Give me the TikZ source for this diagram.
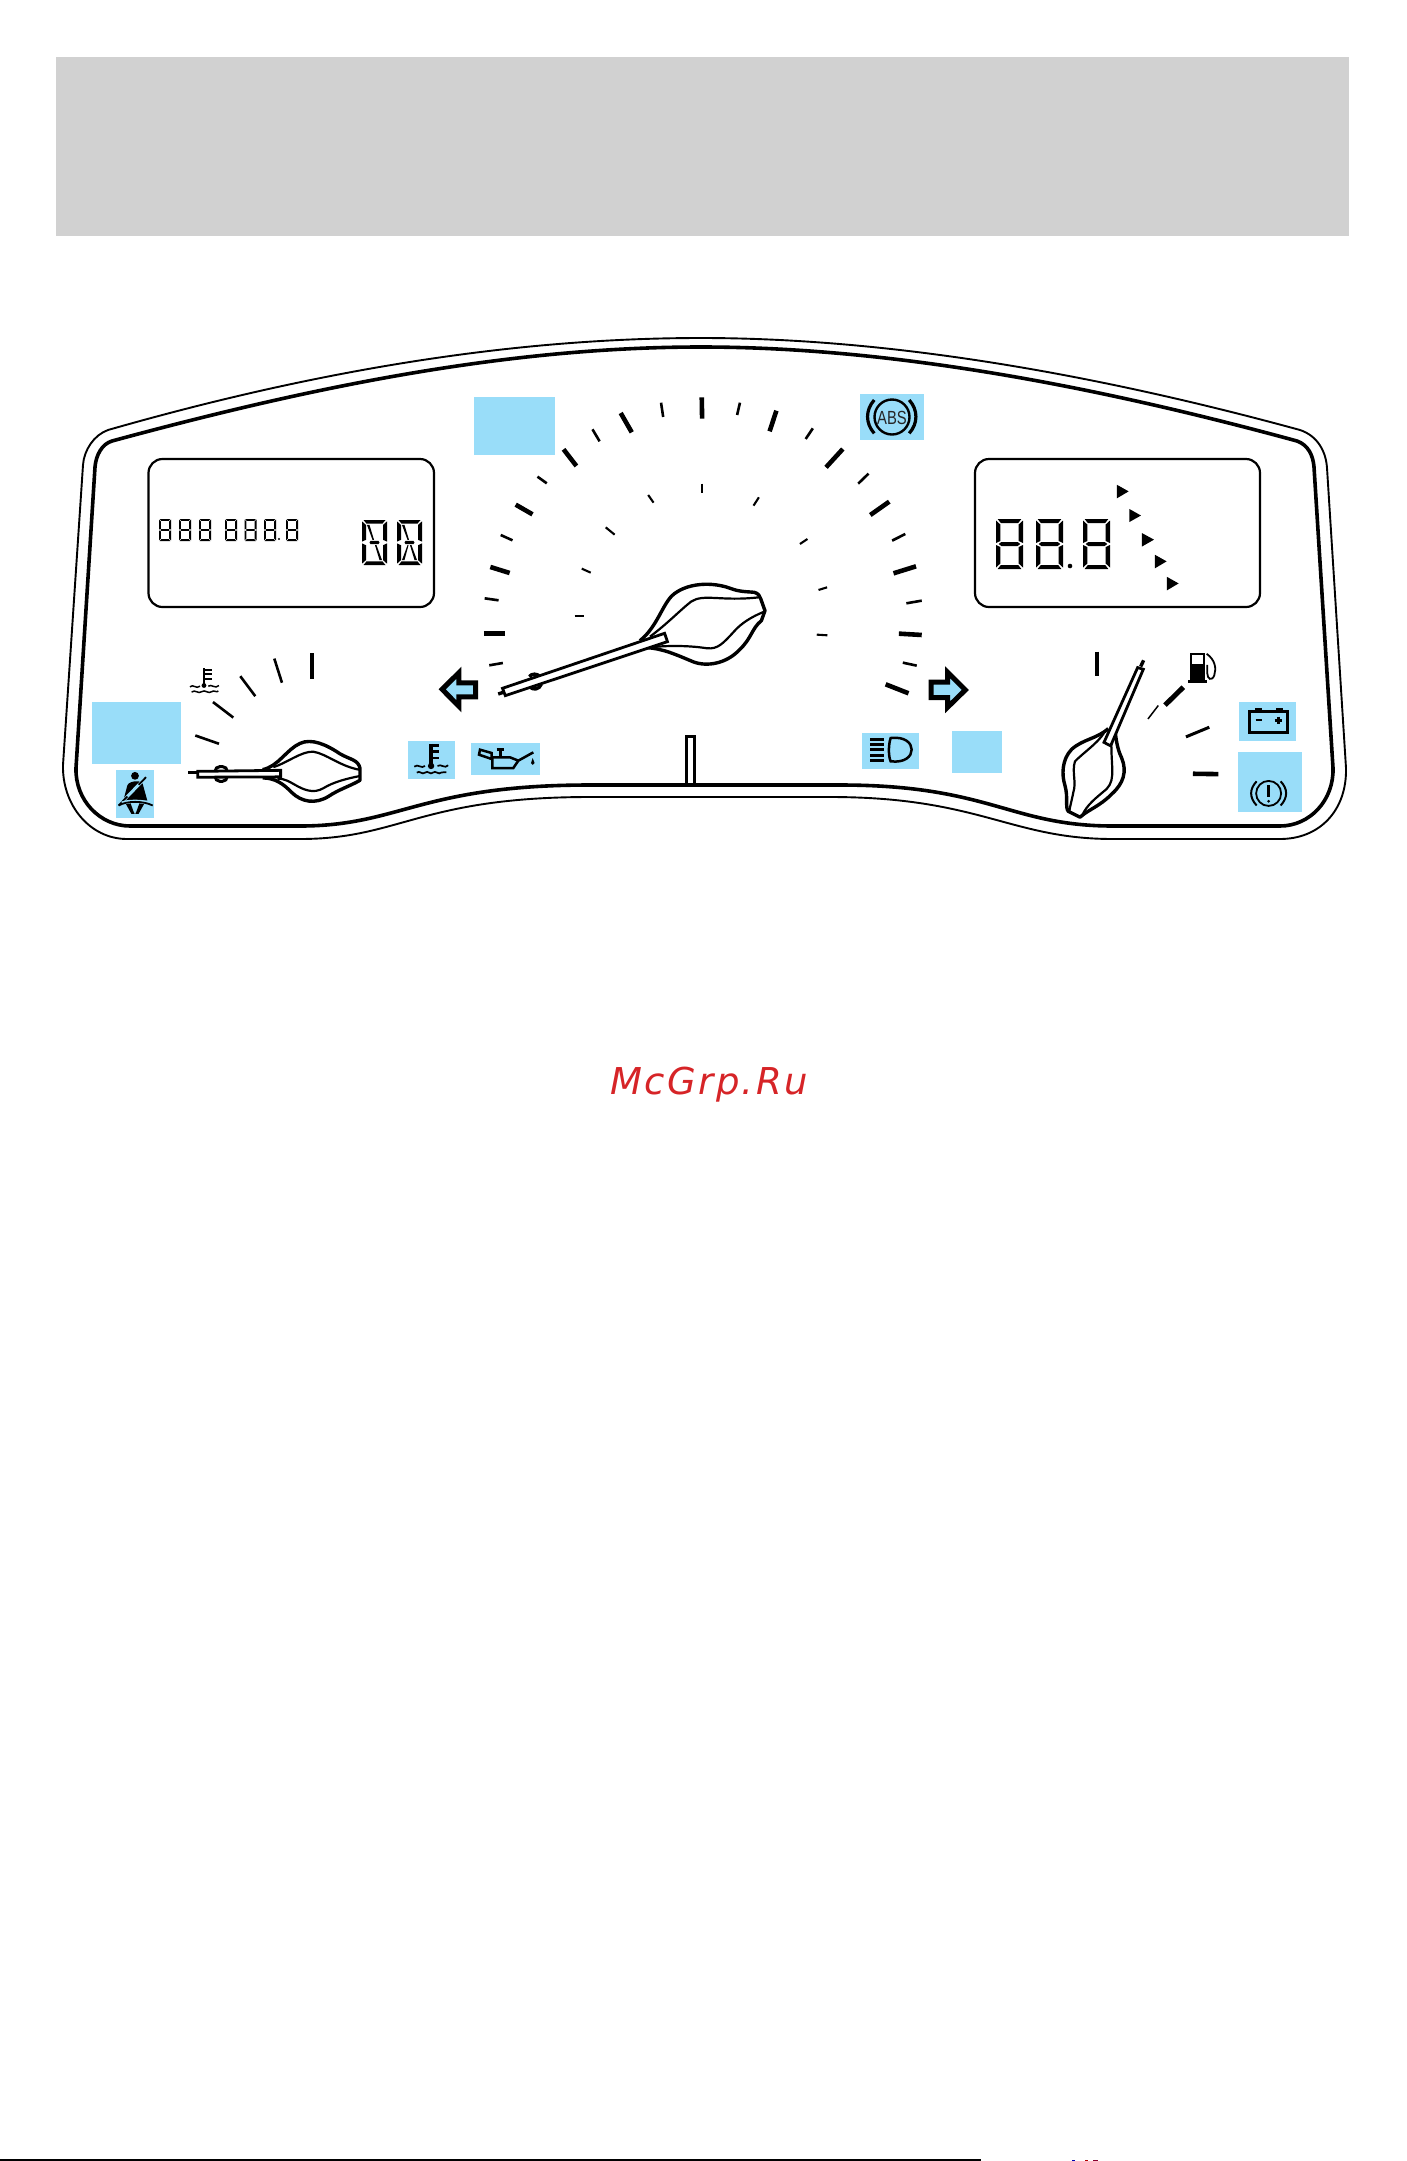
\documentclass[tikz,border=0pt]{standalone}
\usepackage{fontspec}
\setmainfont{Liberation Sans}
\newfontfamily\wmfont[LetterSpace=6.5]{DejaVu Sans}
\definecolor{lcdblue}{HTML}{99DDF9}
\definecolor{headgray}{HTML}{D1D1D1}
\definecolor{wmred}{HTML}{D62427}
\tikzset{
  zoneA/.style={shift={(40,320)},x=0.3333pt,y=-0.3448pt},
  zoneB/.style={shift={(900,320)},x=0.3333pt,y=-0.3448pt},
  zoneC/.style={shift={(400,380)},x=0.3571pt,y=-0.3333pt},
  lamp/.style={fill=lcdblue,draw=none},
  major/.style={line width=4.6pt},
  minor/.style={line width=2.6pt},
  fine/.style={line width=2.1pt},
  needleline/.style={line width=3.4pt,line join=round},
  needlethin/.style={line width=2.2pt,line join=round},
  icon/.style={line width=2.5pt,line join=miter},
  panel/.style={line width=2.2pt,rounded corners=14pt}
}
\newcommand{\segcore}{%
  \fill (.06,0)--(.94,0)--(.82,.08)--(.18,.08)--cycle;
  \fill (.06,1)--(.94,1)--(.82,.92)--(.18,.92)--cycle;
  \fill (0,.03)--(.16,.11)--(.16,.44)--(0,.48)--cycle;
  \fill (0,.52)--(.16,.56)--(.16,.89)--(0,.97)--cycle;
  \fill (1,.03)--(.84,.11)--(.84,.44)--(1,.48)--cycle;
  \fill (1,.52)--(.84,.56)--(.84,.89)--(1,.97)--cycle;
}
\newcommand{\segmid}{\fill (.1,.5)--(.2,.46)--(.8,.46)--(.9,.5)--(.8,.54)--(.2,.54)--cycle;}
\newcommand{\digiteight}[4]{\begin{scope}[shift={(#1,#2)},x=#3pt,y=-#4pt]\segcore\segmid\end{scope}}
\newcommand{\digitalpha}[5]{\begin{scope}[shift={(#1,#2)},x=#3pt,y=-#4pt]\segcore
  \fill (.34,.465)--(.66,.465)--(.7,.5)--(.66,.535)--(.34,.535)--(.3,.5)--cycle;
  \fill (.2,.11)--(.3,.11)--(.48,.44)--(.42,.44)--cycle;
  \fill (.8,.89)--(.7,.89)--(.52,.56)--(.58,.56)--cycle;
  #5\end{scope}}
\begin{document}
\begin{tikzpicture}[x=1pt,y=-1pt]
\useasboundingbox (0,0) rectangle (1406,2161);
% header band
\fill[headgray] (56,57) rectangle (1349,236);
% footer line
\fill[black] (0,2159) rectangle (981,2161);
\fill[blue!70!black] (1072,2159.5) rectangle (1075,2161);
\fill[red!70!black] (1085,2159.5) rectangle (1088,2161);
\fill[purple!70!black] (1093,2159.5) rectangle (1098,2161);
% lamp patches
\fill[lamp] (474,397) rectangle (555,455);
\fill[lamp] (860,394) rectangle (924,440);
\fill[lamp] (92,702) rectangle (181,764);
\fill[lamp] (116,770) rectangle (154,818);
\fill[lamp] (408,741) rectangle (455,779);
\fill[lamp] (471,743) rectangle (540,775);
\fill[lamp] (862,733) rectangle (919,769);
\fill[lamp] (952,731) rectangle (1002,773);
\fill[lamp] (1239,702) rectangle (1296,741);
\fill[lamp] (1238,752) rectangle (1302,812);
% outer cluster outline
\draw[line width=1.9pt,line join=round]
 (108,430) .. controls (300,375) and (500,338) .. (701,338)
 .. controls (900,338) and (1110,378) .. (1300,430)
 .. controls (1318,436) and (1326,452) .. (1327,468) -- (1346,768)
 .. controls (1347,810) and (1320,839) .. (1280,839) -- (1113,839)
 .. controls (1010,839) and (980,797) .. (830,797) -- (590,797)
 .. controls (420,797) and (400,839) .. (300,839) -- (127,839)
 .. controls (90,839) and (62,805) .. (63,765) -- (83,465)
 .. controls (84,450) and (94,435) .. (108,430) -- cycle;
% inner cluster outline
\draw[line width=3.6pt,line join=round]
 (112,441) .. controls (300,390) and (500,347) .. (701,347)
 .. controls (900,347) and (1110,390) .. (1297,441)
 .. controls (1308,445) and (1313,455) .. (1314,467) -- (1333,768)
 .. controls (1334,800) and (1310,826) .. (1280,826) -- (1113,826)
 .. controls (1010,826) and (990,785) .. (840,785) -- (590,785)
 .. controls (420,785) and (400,826) .. (300,826) -- (130,826)
 .. controls (100,826) and (75,800) .. (76,768) -- (95,467)
 .. controls (96,455) and (102,444) .. (112,441) -- cycle;
% LCD panels
\draw[panel] (148.5,459) rectangle (434,607);
\draw[panel] (975,459) rectangle (1260,607);
% odometer digits
\foreach \xx in {159,179,199,225,244.5,264,286} {\digiteight{\xx}{519}{12}{22}}
\fill (279,539) circle[radius=1.2pt];
\digitalpha{362}{520}{25}{45}{}
\digitalpha{397}{520}{25}{45}{\fill (.46,.56)--(.42,.56)--(.2,.89)--(.3,.89)--cycle;}
% trip digits
\digiteight{996}{519}{27}{50}
\digiteight{1036}{519}{27}{50}
\digiteight{1083}{519}{27}{50}
\fill (1070,566) circle[radius=2.3pt];
\begin{scope}[zoneB]
 \fill (651,478)--(651,517)--(686,497)--cycle;
 \fill (688,548)--(688,586)--(723,567)--cycle;
 \fill (726,618)--(726,657)--(762,637)--cycle;
 \fill (765,681)--(765,720)--(800,700)--cycle;
 \fill (801,745)--(801,784)--(836,764)--cycle;
\end{scope}
% speedometer
\begin{scope}[zoneC]
 \draw[minor] (250,856)--(288,849);
 \draw[major] (235,761)--(293,761);
 \draw[minor] (237,655)--(276,661);
 \draw[major] (253,561)--(307,579);
 \draw[minor] (282,465)--(315,481);
 \draw[major] (324,374)--(371,403);
 \draw[minor] (385,290)--(411,310);
 \draw[major] (458,208)--(494,258);
 \draw[minor] (539,148)--(559,184);
 \draw[major] (618,99)--(649,157);
 \draw[minor] (731,68)--(737,111);
 \draw[major] (845,52)--(846,116);
 \draw[minor] (952,68)--(944,105);
 \draw[major] (1054,92)--(1035,154);
 \draw[minor] (1156,145)--(1136,177);
 \draw[major] (1240,207)--(1193,262);
 \draw[minor] (1312,281)--(1283,311);
 \draw[major] (1370,365)--(1317,405);
 \draw[minor] (1415,462)--(1378,482);
 \draw[major] (1445,559)--(1382,580);
 \draw[minor] (1461,662)--(1418,670);
 \draw[major] (1461,765)--(1397,761);
 \draw[minor] (1447,857)--(1408,848);
 \draw[major] (1424,940)--(1360,913);
 \draw[fine] (489,708)--(515,708);
 \draw[fine] (509,566)--(534,578);
 \draw[fine] (576,442)--(601,464);
 \draw[fine] (695,345)--(710,368);
 \draw[fine] (845,311)--(845,340);
 \draw[fine] (1005,352)--(990,377);
 \draw[fine] (1141,477)--(1120,492);
 \draw[fine] (1196,622)--(1172,630);
 \draw[fine] (1197,766)--(1167,764);
 % needle
 \draw[needleline] (275,942)--(292,936);
 \draw[needleline] (362,890) .. controls (368,880) and (385,880) .. (392,890);
 \draw[needleline] (365,922) .. controls (372,930) and (390,930) .. (396,912);
 \draw[needleline] (672,782) .. controls (715,745) and (730,690) .. (755,655)
   .. controls (785,615) and (860,600) .. (925,625)
   .. controls (950,636) and (975,635) .. (992,637)
   .. controls (1003,640) and (1008,648) .. (1010,656)
   -- (1022,692) -- (1012,722)
   .. controls (985,745) and (985,775) .. (950,810)
   .. controls (915,850) and (860,862) .. (820,845)
   .. controls (775,825) and (735,805) .. (690,803);
 \draw[needlethin] (700,770) .. controls (750,730) and (785,690) .. (815,665)
   .. controls (850,640) and (900,665) .. (1005,652);
 \draw[needlethin] (1020,695) .. controls (985,710) and (955,730) .. (935,755)
   .. controls (905,790) and (890,808) .. (860,805)
   .. controls (820,798) and (760,795) .. (700,802);
 \draw[line width=2.8pt,fill=white,line join=miter] (287,925)--(741,760)--(749,785)--(295,947)--cycle;
 % left arrow
 \draw[draw=black,line width=5pt,line join=miter,fill=lcdblue] (118,928)--(165,878)--(165,909)--(212,909)--(212,951)--(165,951)--(165,979)--cycle;
 % centre mark
 \draw[line width=2.8pt] (803,1215)--(803,1069)--(825,1069)--(825,1215);
 % ABS arcs
 \draw[line width=3.2pt] (1328,60) .. controls (1303,90) and (1303,130) .. (1328,160);
 \draw[line width=3.2pt] (1426,60) .. controls (1451,90) and (1451,130) .. (1426,160);
 % coolant lamp
 \draw[line width=3.4pt] (87,1092)--(87,1155);
 \draw[line width=2.5pt] (87,1096)--(110,1096) (87,1115)--(110,1115) (87,1134)--(110,1134);
 \fill (87,1158) circle[radius=3.2pt];
 \draw[line width=1.7pt] (40,1160) .. controls (50,1150) and (60,1168) .. (70,1158)  (105,1158) .. controls (115,1150) and (125,1168) .. (135,1156);
 \draw[line width=1.7pt] (47,1178) .. controls (55,1170) and (62,1186) .. (70,1178) .. controls (78,1170) and (85,1186) .. (92,1178) .. controls (100,1170) and (108,1186) .. (115,1178) .. controls (120,1173) and (125,1180) .. (130,1177);
\end{scope}
\node[inner sep=0pt,text=black!85] (abslabel) at (892,418) {\fontsize{19pt}{19pt}\selectfont\scalebox{.78}[1]{ABS}};
\draw[line width=2.4pt] (892,417) circle[radius=17.5pt];
% oil lamp
\begin{scope}[shift={(465,738)},x=.3333pt,y=-.3333pt]
 \draw[icon] (45,35)--(42,50)--(80,63)--(80,45)--cycle;
 \draw[icon] (82,58)--(82,90)--(145,90)--(160,68)--(205,43);
 \draw[icon] (82,58)--(135,58)--(160,68);
 \draw[icon] (95,34)--(118,34) (107,34)--(107,58);
 \fill (203,60)--(198,75) arc[start angle=180,end angle=360,radius=1.8pt]--cycle;
\end{scope}
% headlamp
\begin{scope}[shift={(855,728)},x=.3333pt,y=-.3333pt]
 \draw[icon] (45,35)--(88,35) (45,50)--(88,50) (45,65)--(88,65) (45,82)--(88,82) (45,97)--(88,97);
 \draw[line width=2.5pt] (107,30) .. controls (100,50) and (100,85) .. (107,100) .. controls (150,105) and (170,85) .. (170,65) .. controls (170,45) and (150,25) .. (107,30) -- cycle;
\end{scope}
% tachometer / temperature gauge
\begin{scope}[zoneA]
 % seat belt lamp
 \fill (285,1322) circle[radius=3.9pt];
 \fill (262,1350) .. controls (265,1338) and (300,1332) .. (308,1345) -- (322,1394) -- (250,1394) -- cycle;
 \draw[lcdblue,line width=3pt] (240,1404)--(318,1326);
 \draw[line width=1.8pt] (236,1408)--(262,1382) (296,1348)--(318,1326);
 \draw[lcdblue,line width=1.8pt] (245,1399) .. controls (265,1392) and (305,1392) .. (328,1399);
 \draw[line width=1.8pt] (236,1408) .. controls (260,1394) and (310,1394) .. (338,1408);
 \fill (258,1404)--(274,1432)--(284,1432)--(280,1424)--(272,1402)--cycle;
 \fill (312,1404)--(296,1432)--(286,1432)--(290,1424)--(298,1402)--cycle;
 % gauge
 \draw[minor] (466,1205)--(537,1229);
 \draw[minor] (519,1108)--(580,1153);
 \draw[minor] (601,1033)--(646,1091);
 \draw[minor] (703,982)--(726,1052);
 \draw[line width=4pt] (816,967)--(816,1040);
 % small coolant symbol
 \draw[line width=2.8pt] (492,1010)--(492,1060);
 \draw[line width=2pt] (492,1014)--(515,1014) (492,1028)--(515,1028) (492,1042)--(515,1042);
 \fill (492,1060) circle[radius=2.4pt];
 \draw[line width=1.5pt] (450,1064) .. controls (460,1054) and (468,1072) .. (480,1062)  (505,1062) .. controls (515,1054) and (525,1072) .. (537,1060);
 \draw[line width=1.5pt] (455,1079) .. controls (465,1070) and (475,1086) .. (485,1078) .. controls (495,1070) and (505,1086) .. (515,1078) .. controls (522,1072) and (530,1082) .. (535,1076);
 % left needle
 \draw[line width=3pt,rounded corners=5pt] (525,1295) rectangle (562,1338);
 \draw[needleline] (445,1313)--(473,1313);
 \draw[needleline] (668,1304) .. controls (715,1295) and (740,1245) .. (780,1228)
   .. controls (815,1212) and (860,1232) .. (900,1258)
   .. controls (930,1275) and (955,1275) .. (960,1300)
   -- (960,1335)
   .. controls (930,1352) and (895,1362) .. (865,1382)
   .. controls (825,1405) and (785,1398) .. (755,1370)
   .. controls (730,1345) and (705,1328) .. (668,1328);
 \draw[needlethin] (700,1297) .. controls (740,1285) and (785,1250) .. (820,1252)
   .. controls (860,1258) and (900,1295) .. (962,1305);
 \draw[needlethin] (962,1322) .. controls (920,1330) and (880,1340) .. (850,1358)
   .. controls (820,1375) and (790,1362) .. (765,1348)
   .. controls (750,1340) and (735,1330) .. (712,1330);
 \draw[line width=2.8pt,fill=white,line join=miter] (473,1309)--(722,1306)--(722,1325)--(473,1326)--cycle;
\end{scope}
% fuel gauge and right-hand items
\begin{scope}[zoneB]
 \draw[line width=4.4pt] (591,962)--(591,1033);
 \draw[line width=5pt] (850,1065)--(795,1117);
 \draw[line width=1.5pt] (775,1118)--(744,1157);
 \draw[line width=3pt] (928,1181)--(858,1209);
 \draw[line width=4.6pt] (879,1316)--(955,1317);
 % fuel pump
 \fill (870,965) rectangle (915,1045);
 \fill[white] (876,971) rectangle (909,997);
 \fill (864,1045) rectangle (920,1053);
 \draw[line width=1.8pt] (920,968) .. controls (945,985) and (950,1010) .. (943,1030) .. controls (935,1050) and (922,1040) .. (922,1025) -- (922,1000);
 % needle
 \draw[needleline] (722,1005)--(731,987);
 \draw[needleline] (625,1185) .. controls (590,1215) and (550,1215) .. (515,1245)
   .. controls (485,1275) and (485,1320) .. (495,1350)
   .. controls (505,1385) and (495,1415) .. (505,1425)
   -- (540,1442)
   .. controls (565,1420) and (600,1410) .. (635,1375)
   .. controls (670,1345) and (682,1310) .. (665,1270)
   .. controls (650,1240) and (648,1210) .. (645,1190);
 \draw[needlethin] (612,1198) .. controls (590,1230) and (550,1255) .. (525,1280)
   .. controls (515,1310) and (530,1340) .. (520,1370)
   .. controls (515,1395) and (510,1410) .. (508,1425);
 \draw[needlethin] (545,1440) .. controls (560,1405) and (590,1385) .. (620,1360)
   .. controls (650,1330) and (630,1290) .. (635,1200);
 \draw[line width=2.8pt,fill=white,line join=miter] (713,1008)--(730,1013)--(632,1235)--(612,1225)--cycle;
 % right arrow
 \draw[line width=5pt,line join=miter,fill=lcdblue] (93,1050)--(143,1050)--(143,1022)--(196,1073)--(143,1123)--(143,1095)--(93,1095)--cycle;
 % battery
 \draw[line width=3pt] (1050,1135) rectangle (1162,1197);
 \fill (1065,1126) rectangle (1086,1135);
 \fill (1127,1126) rectangle (1148,1135);
 \draw[line width=2pt] (1067,1161)--(1087,1161);
 \draw[line width=2.4pt] (1124,1161)--(1146,1161) (1135,1150)--(1135,1172);
 % brake
 \draw[line width=1.8pt] (1106,1373) circle[radius=12.5pt];
 \draw[line width=2.4pt] (1106,1350)--(1106,1384);
 \fill (1106,1396) circle[radius=1.5pt];
 \draw[line width=2pt] (1070,1338) .. controls (1048,1360) and (1048,1385) .. (1070,1408);
 \draw[line width=2pt] (1142,1338) .. controls (1164,1360) and (1164,1385) .. (1142,1408);
\end{scope}
% watermark
\node[inner sep=0pt,text=wmred] (watermark) at (709,1085) {\wmfont\itshape\fontsize{37pt}{37pt}\selectfont McGrp.Ru};
\end{tikzpicture}
\end{document}
